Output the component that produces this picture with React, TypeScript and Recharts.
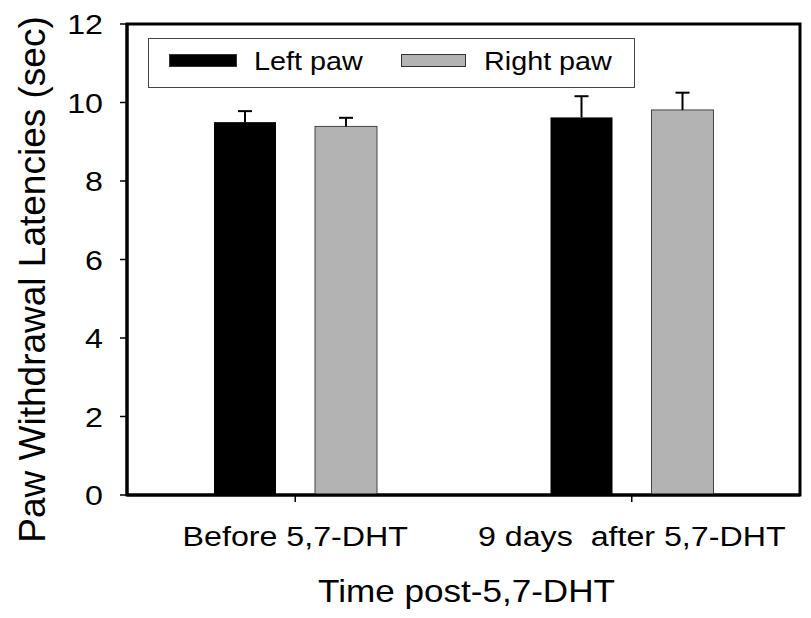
import React from 'react';
import { BarChart, Bar, XAxis, YAxis, Legend, Label, ReferenceArea } from 'recharts';

const categories = ['Before 5,7-DHT', '9 days  after 5,7-DHT'];
const leftPaw = [9.5, 9.62];
const leftPawErr = [0.28, 0.54];
const rightPaw = [9.39, 9.81];
const rightPawErr = [0.22, 0.44];
const yTicks = [0, 2, 4, 6, 8, 10, 12];
const seriesNames = ['Left paw', 'Right paw'];

const data = categories.map((name, i) => ({
  name,
  left: leftPaw[i],
  leftErr: leftPawErr[i],
  right: rightPaw[i],
  rightErr: rightPawErr[i],
}));

const FONT = '"Liberation Sans", Arial, Helvetica, sans-serif';
const SX = 1.15;

const YTick = (props: any) => {
  const { x, y, payload } = props;
  return (
    <g transform={`translate(${x},${y})`}>
      <text transform={`scale(${SX},1)`} textAnchor="end" dy="0.36em" fontSize={28} fontFamily={FONT} fill="#000">
        {payload.value}
      </text>
    </g>
  );
};

const XTick = (props: any) => {
  const { x, y, payload } = props;
  return (
    <g transform={`translate(${x},${y + 42})`}>
      <text transform={`scale(${SX},1)`} textAnchor="middle" fontSize={28} fontFamily={FONT} fill="#000" style={{ whiteSpace: 'pre' }}>
        {payload.value}
      </text>
    </g>
  );
};

// Bar with an upper-only error bar; error length scaled from the bar's own pixel height
const makeBarShape = (valueKey: string, errKey: string) => (props: any) => {
  const { x, y, width, height, fill, stroke, strokeWidth, payload } = props;
  const v = payload[valueKey];
  const e = payload[errKey];
  const ePx = v ? (e * height) / v : 0;
  const cx = x + width / 2;
  return (
    <g>
      <rect x={x} y={y} width={width} height={height} fill={fill} stroke={stroke} strokeWidth={strokeWidth} />
      <line x1={cx} y1={y} x2={cx} y2={y - ePx} stroke="#000" strokeWidth={2} />
      <line x1={cx - 7} y1={y - ePx} x2={cx + 7} y2={y - ePx} stroke="#000" strokeWidth={2} />
    </g>
  );
};

const LegendBox = (props: any) => {
  const items = props.payload || [];
  const swLeft = [20, 252];
  const txtLeft = [105, 335];
  return (
    <div
      style={{
        position: 'relative',
        width: 487,
        height: 50,
        boxSizing: 'border-box',
        border: '1.5px solid #444',
        background: '#fff',
        fontFamily: FONT,
      }}
    >
      {items.map((it: any, i: number) => (
        <React.Fragment key={i}>
          <div
            style={{
              position: 'absolute',
              left: swLeft[i],
              top: 15,
              width: i === 0 ? 68 : 65,
              height: 13,
              boxSizing: 'border-box',
              background: it.color,
              border: '1px solid #333',
            }}
          />
          <div
            style={{
              position: 'absolute',
              left: txtLeft[i],
              top: 10,
              fontSize: 25,
              lineHeight: '25px',
              color: '#000',
              whiteSpace: 'nowrap',
              transform: `scaleX(${SX})`,
              transformOrigin: 'left center',
            }}
          >
            {it.value}
          </div>
        </React.Fragment>
      ))}
    </div>
  );
};

export default function App() {
  return (
    <div style={{ position: 'absolute', left: 0, top: 0, width: 811, height: 618, background: '#fff' }}>
      <BarChart
        width={811}
        height={618}
        data={data}
        margin={{ top: 24, right: 11, bottom: 0, left: 0 }}
        barGap={39}
      >
        <ReferenceArea y1={0} y2={12} fill="none" stroke="#000" strokeWidth={3} fillOpacity={0} ifOverflow="visible" />
        <XAxis
          dataKey="name"
          height={123}
          tickSize={7}
          tickMargin={2}
          axisLine={{ stroke: '#000', strokeWidth: 3 }}
          tickLine={{ stroke: '#000', strokeWidth: 1.5 }}
          tick={<XTick />}
          interval={0}
        >
          <Label
            content={(p: any) => {
              const vb = p.viewBox;
              return (
                <g transform={`translate(${vb.x + vb.width / 2 + 3},${vb.y + 107})`}>
                  <text transform={`scale(${SX},1)`} textAnchor="middle" fontSize={30.5} fontFamily={FONT} fill="#000">
                    Time post-5,7-DHT
                  </text>
                </g>
              );
            }}
          />
        </XAxis>
        <YAxis
          width={127}
          domain={[0, 12]}
          ticks={yTicks}
          interval={0}
          tickSize={7}
          tickMargin={17}
          axisLine={{ stroke: '#000', strokeWidth: 3 }}
          tickLine={{ stroke: '#000', strokeWidth: 1.5 }}
          tick={<YTick />}
        >
          <Label
            content={(p: any) => {
              const vb = p.viewBox;
              return (
                <g transform={`translate(${vb.x + 45},${vb.y + vb.height / 2 + 20}) rotate(-90)`}>
                  <text textAnchor="middle" fontSize={37} fontFamily={FONT} fill="#000">
                    Paw Withdrawal Latencies (sec)
                  </text>
                </g>
              );
            }}
          />
        </YAxis>
        <Legend
          layout="horizontal"
          verticalAlign="middle"
          align="center"
          wrapperStyle={{ left: 148, top: 38, width: 487, height: 50 }}
          content={<LegendBox />}
        />
        <Bar
          dataKey="left"
          name={seriesNames[0]}
          fill="#000000"
          barSize={62}
          isAnimationActive={false}
          shape={makeBarShape('left', 'leftErr')}
        />
        <Bar
          dataKey="right"
          name={seriesNames[1]}
          fill="#b3b3b3"
          stroke="#444"
          strokeWidth={1}
          barSize={62}
          isAnimationActive={false}
          shape={makeBarShape('right', 'rightErr')}
        />
      </BarChart>
    </div>
  );
}
